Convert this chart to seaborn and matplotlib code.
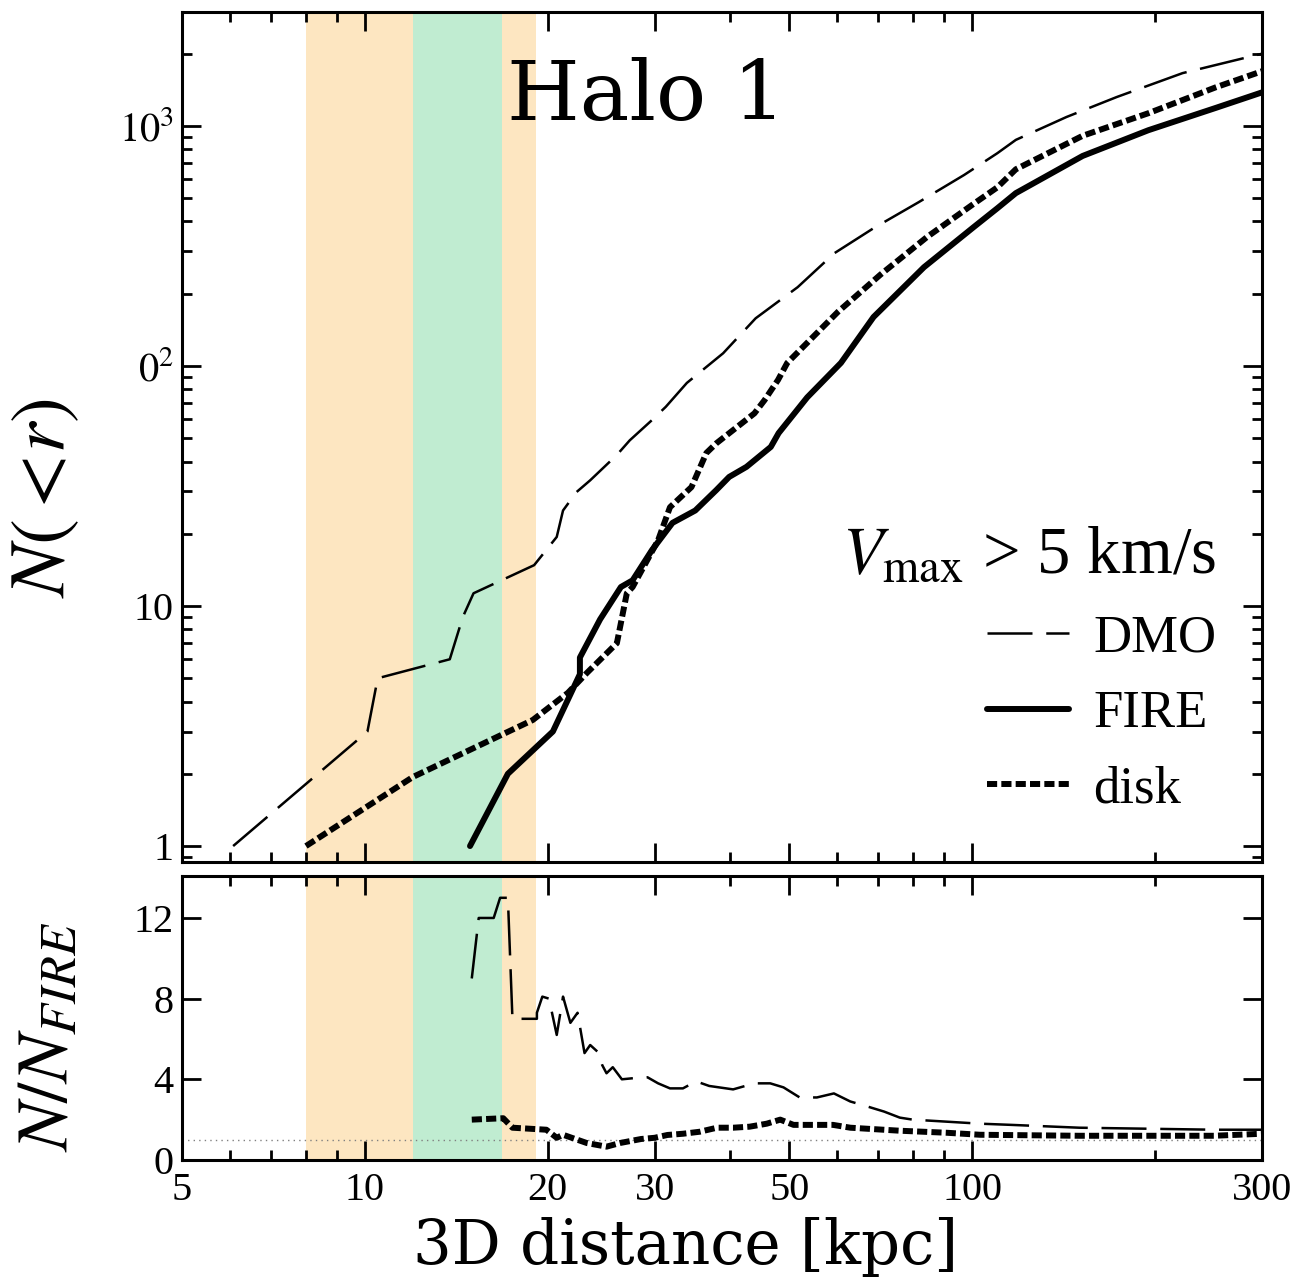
import numpy as np
import pandas as pd
import seaborn as sns
import matplotlib.pyplot as plt
from matplotlib.ticker import FixedLocator, FixedFormatter, NullFormatter

# cumulative counts N(<r)
dmo_r = [6.07, 10.1, 10.5, 13.8, 14.5, 15.1, 19.0, 20.7, 21.2, 22.3, 23.5, 26.0, 27.3, 29.7,
         31.3, 33.9, 38.9, 44.0, 51.6, 59.3, 68.8, 81.6, 97, 110, 118, 143, 173, 222, 300]
dmo_n = [1, 3, 5, 6, 9, 11.3, 14.8, 19.4, 25, 29.8, 33.4, 42.6, 49, 59.5,
         67.6, 85, 113, 158, 213, 295, 375, 481, 625, 770, 875, 1090, 1320, 1660, 2000]

fire_r = [14.9, 17.2, 20.4, 22.6, 22.6, 24.4, 26.4, 27.6, 29.7, 32.1, 35.0, 37.9, 39.8, 42.5,
          46.6, 48.0, 53.5, 60.8, 68.8, 83.3, 100.7, 110, 118, 152, 195, 252, 300]
fire_n = [1, 2, 3, 5.2, 6.1, 8.8, 12.0, 12.8, 17.1, 22.2, 25, 30.4, 34.5, 38,
          46, 52.5, 74, 103, 160, 258, 380, 454, 525, 750, 960, 1190, 1380]

disk_r = [8.0, 12.0, 18.9, 21.6, 23.2, 26.0, 27.0, 27.6, 30.4, 31.8, 34.5, 36.5, 37.9, 43.8,
          45.5, 47.9, 49.6, 60.1, 70.6, 84.3, 100.7, 110, 118, 152, 195, 252, 300]
disk_n = [1, 1.94, 3.35, 4.35, 5.26, 7.0, 11.3, 12, 18.8, 25.8, 31.3, 43.4, 47.6, 63.5,
          72, 87.5, 103, 168, 240, 345, 475, 555, 660, 910, 1130, 1450, 1690]

# ratios to FIRE
dmo_ratio_r = [15.0, 15.4, 16.3, 16.7, 17.2, 17.5, 19.2, 19.2, 19.6, 20.1, 20.7, 21.2, 21.8, 22.4,
               23.0, 23.5, 24.2, 24.6, 25.0, 25.6, 26.5, 28.0, 29.2, 30.4, 31.8, 33.4, 35.1, 36.9,
               40.4, 43.8, 46.5, 48.9, 52, 55.5, 59.2, 63, 66.4, 71.6, 76, 79.8, 90.7, 103, 116,
               150, 194, 250, 300]
dmo_ratio = [9.0, 12, 12, 13, 13, 7.0, 7.0, 7.3, 8.1, 8.0, 6.2, 8.1, 6.8, 7.3,
             5.3, 5.7, 5.35, 4.7, 4.3, 4.6, 4.0, 4.07, 4.1, 3.8, 3.55, 3.55, 3.9, 3.67,
             3.5, 3.8, 3.8, 3.6, 3.1, 3.1, 3.3, 2.9, 2.7, 2.4, 2.1, 2.0, 1.9, 1.8, 1.74,
             1.6, 1.55, 1.5, 1.5]

disk_ratio_r = [15.0, 16.9, 17.5, 19.9, 20.7, 21.2, 23.2, 25.0, 26.3, 28.5, 30.0, 31.5, 33.4, 35.6,
                38.0, 40.4, 43.0, 45.9, 48.3, 50.8, 59.0, 63.0, 76.0, 90.7, 103, 150, 250, 300]
disk_ratio = [2.0, 2.07, 1.6, 1.5, 1.1, 1.25, 0.84, 0.66, 0.84, 1.04, 1.1, 1.24, 1.3, 1.4,
              1.6, 1.6, 1.65, 1.8, 2.0, 1.74, 1.74, 1.6, 1.45, 1.35, 1.25, 1.2, 1.2, 1.3]

# shaded radial ranges [kpc]
orange_band = (8.0, 19.1)
green_band = (12.0, 16.8)

x_ticks = [5, 10, 20, 30, 50, 100, 300]
x_labels = ['5', '10', '20', '30', '50', '100', '300']
y_ticks = [1, 10, 100, 1000]
y_labels = ['1', '10', '$0^2$', '$10^3$']
ratio_ticks = [0, 4, 8, 12]

sns.set_style('ticks')
plt.rcParams['font.family'] = ['Liberation Serif', 'DejaVu Serif']
plt.rcParams['mathtext.fontset'] = 'stix'
plt.rcParams['axes.linewidth'] = 2.2
for key in ('text.color', 'axes.labelcolor', 'xtick.color', 'ytick.color', 'axes.edgecolor'):
    plt.rcParams[key] = 'k'

fig = plt.figure(figsize=(12.99, 12.86), dpi=100)
ax1 = fig.add_axes([0.1401, 0.3297, 0.8314, 0.661])
ax2 = fig.add_axes([0.1401, 0.098, 0.8314, 0.2208])

dmo_ls = (0, (18, 5.5))
disk_ls = (0, (1.7, 0.7))

for ax in (ax1, ax2):
    ax.axvspan(*orange_band, color='#fde6c1', lw=0, zorder=0)
    ax.axvspan(*green_band, color='#c0ecd1', lw=0, zorder=0)

sns.lineplot(x=dmo_r, y=dmo_n, ax=ax1, color='k', lw=1.8, linestyle=dmo_ls,
             estimator=None, sort=False, label='DMO')
sns.lineplot(x=fire_r, y=fire_n, ax=ax1, color='k', lw=4.3, linestyle='-',
             estimator=None, sort=False, label='FIRE')
sns.lineplot(x=disk_r, y=disk_n, ax=ax1, color='k', lw=4.3, linestyle=disk_ls,
             estimator=None, sort=False, label='disk')

sns.lineplot(x=dmo_ratio_r, y=dmo_ratio, ax=ax2, color='k', lw=1.8, linestyle=dmo_ls,
             estimator=None, sort=False)
sns.lineplot(x=disk_ratio_r, y=disk_ratio, ax=ax2, color='k', lw=4.3, linestyle=disk_ls,
             estimator=None, sort=False)
ax2.axhline(1, color='gray', lw=1, ls=(0, (1, 3)), zorder=1)

ax1.set_xscale('log')
ax1.set_yscale('log')
ax1.set_xlim(5, 300)
ax1.set_ylim(0.858, 2985)
ax2.set_xscale('log')
ax2.set_xlim(5, 300)
ax2.set_ylim(0, 14.08)

minor_x = [6, 7, 8, 9, 40, 60, 70, 80, 90, 200]
minor_y = [m * 10 ** k for k in range(-1, 4) for m in range(2, 10) if 0.858 < m * 10 ** k < 2985]
for ax in (ax1, ax2):
    ax.xaxis.set_major_locator(FixedLocator(x_ticks))
    ax.xaxis.set_minor_locator(FixedLocator(minor_x))
    ax.xaxis.set_minor_formatter(NullFormatter())
    ax.tick_params(which='both', direction='in', top=True, right=True, width=2,
                   labelsize=29, color='k', labelcolor='k')
    ax.tick_params(which='major', length=14)
    ax.tick_params(which='minor', length=7)
    ax.tick_params(axis='y', pad=6)
    ax.tick_params(axis='x', pad=9)

ax1.xaxis.set_major_formatter(NullFormatter())
ax2.xaxis.set_major_formatter(FixedFormatter(x_labels))
ax1.yaxis.set_major_locator(FixedLocator(y_ticks))
ax1.yaxis.set_major_formatter(FixedFormatter(y_labels))
ax1.yaxis.set_minor_locator(FixedLocator(minor_y))
ax1.yaxis.set_minor_formatter(NullFormatter())
ax2.yaxis.set_major_locator(FixedLocator(ratio_ticks))
ax2.yaxis.set_minor_locator(FixedLocator([]))

ax1.set_ylabel(r'$N(<\!r)$', fontsize=56)
ax1.yaxis.set_label_coords(-0.092, 0.428)
ax2.set_ylabel(r'$N/N_{FIRE}$', fontsize=52)
ax2.yaxis.set_label_coords(-0.092, 0.433)
ax2.set_xlabel('3D distance [kpc]', fontsize=44, family='DejaVu Serif')
ax2.xaxis.set_label_coords(0.466, -0.2)

ax1.text(0.43, 0.9, 'Halo 1', transform=ax1.transAxes, ha='center', va='center',
         fontsize=60, family='DejaVu Serif')

leg = ax1.legend(loc='lower right', bbox_to_anchor=(0.977, 0.032), frameon=False,
                 fontsize=38, title=r'$V_{\rm max}$ > 5 km/s', title_fontsize=48,
                 handlelength=1.55, handletextpad=0.45, labelspacing=0.52,
                 alignment='right', borderaxespad=0)

fig.savefig('out.png', dpi=100)
